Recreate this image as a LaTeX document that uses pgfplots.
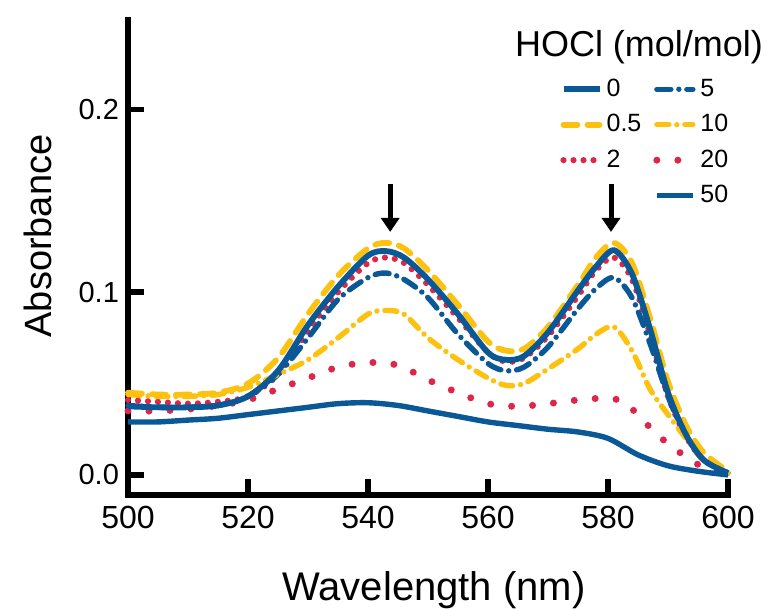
\documentclass[border=0pt]{standalone}
\usepackage{pgfplots}
\pgfplotsset{compat=1.18}
\usepackage{fontspec}
\setmainfont{Liberation Sans}
\usetikzlibrary{arrows.meta}
\definecolor{hblue}{RGB}{10,88,150}
\definecolor{horange}{RGB}{253,194,15}
\definecolor{hred}{RGB}{222,38,72}
\pgfplotsset{
  s0/.style={hblue, line width=2.9pt, solid},
  s05/.style={horange, line width=2.9pt, line cap=round, dash pattern=on 7pt off 5pt},
  s2/.style={hred, line width=3.1pt, line cap=round, dash pattern=on 0pt off 5pt},
  s5/.style={hblue, line width=2.7pt, line cap=round, dash pattern=on 7pt off 4pt on 0pt off 4pt},
  s10/.style={horange, line width=2.7pt, line cap=round, dash pattern=on 6pt off 4pt on 0pt off 4pt},
  s20/.style={hred, line width=3.5pt, line cap=round, dash pattern=on 0pt off 10.5pt},
  s50/.style={hblue, line width=2.7pt, solid},
}
\begin{document}
\begin{tikzpicture}
\useasboundingbox (-64pt,-57pt) rectangle (321pt,247.5pt);
\begin{axis}[
  scale only axis, width=300pt, height=237.5pt,
  at={(0,0)}, anchor=south west,
  xmin=500, xmax=600, ymin=-0.011, ymax=0.249,
  axis x line*=bottom, axis y line*=left,
  axis line style={line width=2.8pt, line cap=rect},
  tick align=inside, major tick length=8pt,
  tick style={line width=2.8pt, black},
  xtick={500,520,540,560,580,600},
  xticklabels={500,520,540,560,580,600},
  ytick={0,0.1,0.2}, yticklabels={0.0,0.1,0.2},
  xticklabel style={font=\fontsize{16}{16}\selectfont, yshift=-2pt},
  yticklabel style={font=\fontsize{14.5}{14.5}\selectfont, xshift=-1pt},
  clip=false,
  legend columns=2,
  legend image code/.code={\draw[#1] (0pt,0pt) -- (18pt,0pt);},
  legend style={draw=none, fill=none, inner sep=0pt,
    at={(rel axis cs:0.72,0.885)}, anchor=north west,
    font=\fontsize{12.5}{13}\selectfont,
    /tikz/every even column/.append style={column sep=4pt},
    row sep=3.5pt},
  legend cell align=left,
]
\addlegendimage{s0}\addlegendentry{0}
\addlegendimage{s5}\addlegendentry{5}
\addlegendimage{s05}\addlegendentry{0.5}
\addlegendimage{s10}\addlegendentry{10}
\addlegendimage{s2}\addlegendentry{2}
\addlegendimage{s20}\addlegendentry{20}
\addlegendimage{empty legend}\addlegendentry{}
\addlegendimage{s50}\addlegendentry{50}

% 0.5
\addplot[s05, smooth, forget plot] coordinates {(500,0.045)(505,0.044)(510,0.044)(515,0.045)(520,0.050)(525,0.064)(530,0.088)(535,0.109)(540,0.124)(543,0.127)(546,0.124)(550,0.112)(555,0.093)(560,0.073)(563,0.068)(566,0.069)(570,0.081)(575,0.104)(578,0.119)(581,0.127)(584,0.116)(587,0.086)(590,0.051)(593,0.027)(596,0.012)(600,0.002)};
% 2
\addplot[s2, smooth, forget plot] coordinates {(500,0.041)(505,0.040)(510,0.039)(515,0.040)(520,0.043)(525,0.055)(530,0.079)(535,0.100)(540,0.116)(543,0.119)(546,0.116)(550,0.104)(555,0.086)(560,0.067)(563,0.062)(566,0.064)(570,0.076)(575,0.098)(578,0.112)(581,0.119)(584,0.107)(587,0.077)(590,0.043)(593,0.021)(596,0.008)(600,0.001)};
% 5
\addplot[s5, smooth, forget plot] coordinates {(500,0.038)(505,0.037)(510,0.037)(515,0.038)(520,0.043)(525,0.055)(530,0.075)(535,0.096)(540,0.108)(543,0.1105)(546,0.107)(550,0.097)(555,0.077)(560,0.061)(563,0.057)(566,0.059)(570,0.070)(575,0.091)(578,0.102)(581,0.108)(584,0.097)(587,0.072)(590,0.043)(593,0.021)(596,0.008)(600,0.001)};
% 10
\addplot[s10, smooth, forget plot] coordinates {(500,0.044)(505,0.043)(510,0.043)(515,0.044)(520,0.048)(525,0.055)(530,0.063)(535,0.075)(540,0.088)(543,0.090)(546,0.088)(550,0.075)(555,0.063)(560,0.053)(563,0.049)(566,0.050)(570,0.058)(575,0.069)(578,0.077)(581,0.081)(584,0.068)(587,0.047)(590,0.033)(593,0.020)(596,0.008)(600,0.001)};
% 20
\addplot[s20, smooth, forget plot] coordinates {(500,0.035)(505,0.035)(510,0.036)(515,0.038)(520,0.041)(525,0.047)(530,0.053)(535,0.059)(540,0.0615)(545,0.060)(550,0.052)(555,0.045)(560,0.039)(565,0.0375)(570,0.039)(575,0.041)(580,0.042)(583,0.039)(587,0.026)(590,0.017)(593,0.010)(596,0.004)(600,0.001)};
% 50
\addplot[s50, smooth, forget plot] coordinates {(500,0.029)(505,0.029)(510,0.030)(515,0.031)(520,0.033)(525,0.035)(530,0.037)(535,0.039)(540,0.0395)(545,0.038)(550,0.035)(555,0.032)(560,0.029)(565,0.027)(570,0.025)(575,0.0235)(580,0.020)(585,0.011)(590,0.005)(595,0.002)(600,0.0)};
% 0
\addplot[s0, smooth, forget plot] coordinates {(500,0.0375)(505,0.037)(510,0.037)(515,0.038)(520,0.043)(525,0.057)(530,0.082)(535,0.103)(540,0.120)(543,0.1225)(546,0.119)(550,0.107)(555,0.088)(560,0.067)(563,0.063)(566,0.065)(570,0.078)(575,0.101)(578,0.114)(581,0.123)(584,0.110)(587,0.080)(590,0.045)(593,0.022)(596,0.008)(600,0.001)};

\draw[line width=2.5pt, -{Triangle[width=9pt,length=7pt]}] (axis cs:543.7,0.159) -- (axis cs:543.7,0.133);
\draw[line width=2.5pt, -{Triangle[width=9pt,length=7pt]}] (axis cs:580.5,0.159) -- (axis cs:580.5,0.133);
\end{axis}
\node[font=\fontsize{18}{18}\selectfont] at (255.5pt,224pt) {HOCl (mol/mol)};
\node[rotate=90, anchor=base, font=\fontsize{19}{19}\selectfont] at (-38pt,129.5pt) {Absorbance};
\node[anchor=base, font=\fontsize{20}{20}\selectfont] at (153pt,-53pt) {Wavelength (nm)};
\end{tikzpicture}
\end{document}
